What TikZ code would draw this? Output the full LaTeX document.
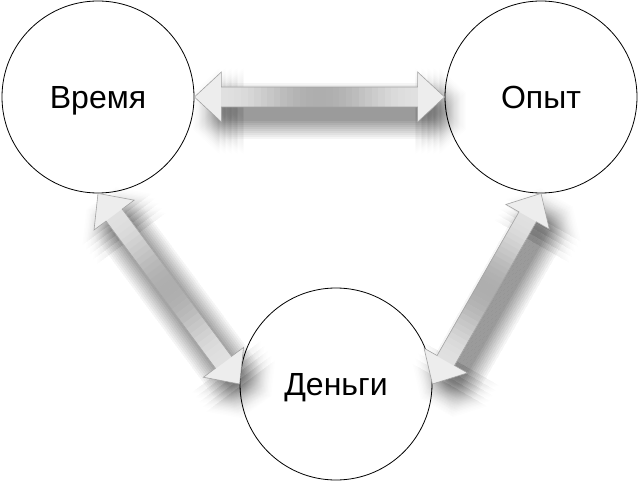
\documentclass[tikz,border=0pt]{standalone}
\usepackage{fontspec}
\setmainfont{Liberation Sans}
\usetikzlibrary{calc}
\tikzset{
  bubble/.style={circle, draw=black, line width=0.8pt, fill=white,
    minimum size=192pt, inner sep=0pt, text height=23pt, text depth=0pt,
    font=\fontsize{32}{38}\selectfont},
  arrowline/.style={draw=black!36, line width=0.6pt, line join=miter},
  arrowshadow/.style={fill=black, opacity=0.006},
}
\def\baShape{(0pt,0pt) -- (27pt,25pt) -- (27pt,10pt) -- (\baB pt,10pt) -- (\baB pt,25pt) -- (\baLen pt,0pt) -- (\baB pt,-25pt) -- (\baB pt,-10pt) -- (27pt,-10pt) -- (27pt,-25pt) -- cycle}
\newcommand\blockarrow[2]{%
  \path let \p1=($(#2)-(#1)$) in \pgfextra{%
    \pgfmathsetmacro\baAngTmp{atan2(\y1,\x1)}%
    \pgfmathsetmacro\baLenTmp{veclen(\x1,\y1)}%
    \pgfmathsetmacro\baBTmp{\baLenTmp-27}%
    \xdef\baAng{\baAngTmp}\xdef\baLen{\baLenTmp}\xdef\baB{\baBTmp}};
  \begin{scope}[shift={($(#1)+(10,14)$)}, rotate=\baAng]
    \foreach \sa in {-12,-6,...,12}{\foreach \sp in {-18,-16,...,18}{%
      \path[arrowshadow, shift={(\sa pt,\sp pt)}] \baShape;
    }}
  \end{scope}
  \begin{scope}[shift={(#1)}, rotate=\baAng]
    \fill[black!7] \baShape;
    \foreach \i in {0,...,29}{%
      \pgfmathsetmacro\xa{27+(\baB-27)*\i/30}%
      \pgfmathsetmacro\xb{27+(\baB-27)*(\i+1)/30+0.4}%
      \pgfmathsetmacro\cc{12+20*sin(180*(\i+0.5)/30)^2}%
      \fill[black!\cc] (\xa pt,-10pt) rectangle (\xb pt,10pt);
    }
    \draw[arrowline] \baShape;
  \end{scope}}
\begin{document}
\begin{tikzpicture}[x=1pt, y=-1pt]
  \useasboundingbox[fill=white] (0,0) rectangle (640,484);
  \node[bubble] (vr) at (98,97) {Время};
  \node[bubble] (op) at (541,97) {Опыт};
  \node[bubble] (den) at (336,384) {Деньги};
  \blockarrow{vr.east}{op.west}
  \blockarrow{vr.south}{den.west}
  \blockarrow{op.south}{den.east}
\end{tikzpicture}
\end{document}
